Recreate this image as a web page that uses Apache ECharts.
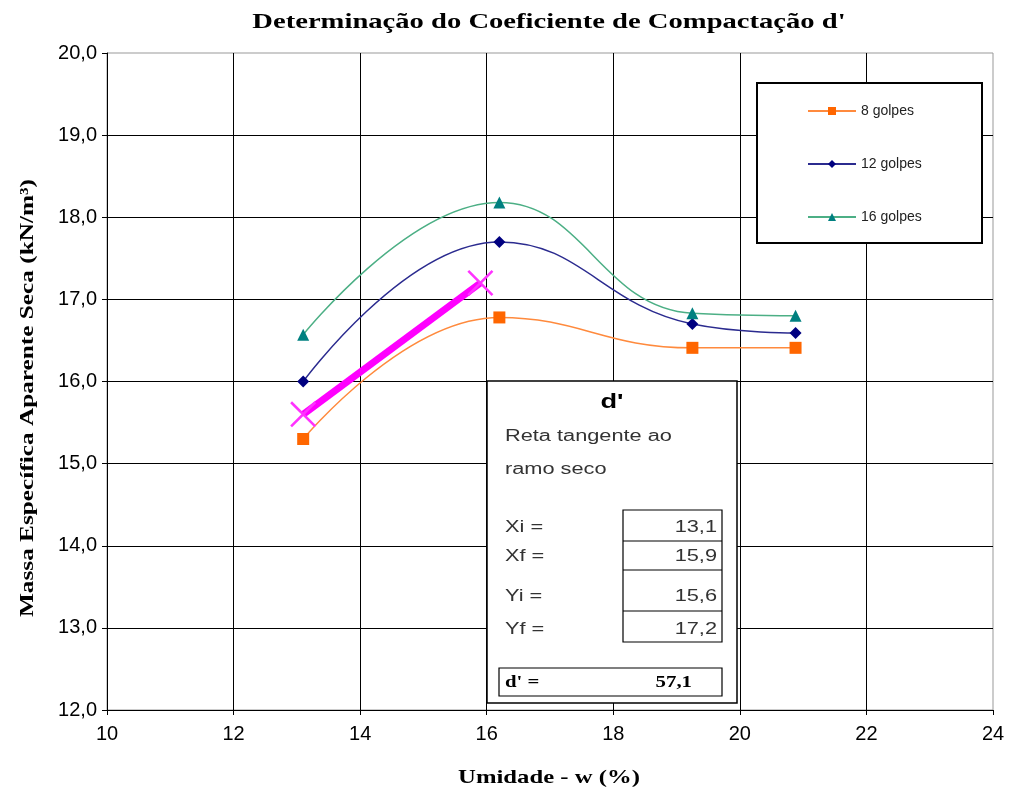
<!DOCTYPE html>
<html>
<head>
<meta charset="utf-8">
<script src="https://cdn.jsdelivr.net/npm/echarts@6/dist/echarts.min.js"></script>
<style>html,body{margin:0;padding:0;background:#fff;}#c{width:1012px;height:796px;}</style>
</head>
<body>
<div id="c"></div>
<script>
// ---- data ----
var chartTitle = 'Determinação do Coeficiente de Compactação d\'';
var xAxisName = 'Umidade - w (%)';
var yAxisName = 'Massa Específica Aparente Seca (kN/m³)';
var seriesNames = ['8 golpes', '12 golpes', '16 golpes'];
var w8 = [13.1, 16.2, 19.25, 20.88];
var g8 = [15.3, 16.78, 16.41, 16.41];
var w12 = [13.1, 16.2, 19.25, 20.88];
var g12 = [16.0, 17.7, 16.7, 16.59];
var w16 = [13.1, 16.2, 19.25, 20.88];
var g16 = [16.57, 18.18, 16.83, 16.8];
var tangentX = [13.1, 15.9];
var tangentY = [15.6, 17.2];
var dPrime = 57.1;
var xTicks = [10, 12, 14, 16, 18, 20, 22, 24];
var yTicks = [12, 13, 14, 15, 16, 17, 18, 19, 20];

function pairs(xs, ys) { return xs.map(function (x, i) { return [x, ys[i]]; }); }
function fmt(v) { return v.toFixed(1).replace('.', ','); }

var chart = echarts.init(document.getElementById('c'));
var sans = 'Liberation Sans';
var serif = 'Liberation Serif';
var SX = 1.36; // horizontal text stretch seen in the reference

var tbl = [
  ['Xi =', tangentX[0], 528],
  ['Xf =', tangentX[1], 557],
  ['Yi =', tangentY[0], 597],
  ['Yf =', tangentY[1], 630]
];
function txt(x, y, text, font, opts) {
  opts = opts || {};
  return { type: 'text', z: opts.z || 4, x: x, y: y, scaleX: opts.sx || SX, rotation: opts.rot || 0,
    style: { text: text, font: font, fill: opts.fill || '#000', align: opts.align || 'left', verticalAlign: 'middle' } };
}
var graphics = [
  txt(549, 22, chartTitle, 'bold 22px ' + serif, { align: 'center', sx: 1.3 }),
  txt(549, 778, xAxisName, 'bold 19px ' + serif, { align: 'center', sx: 1.3 }),
  txt(28, 398, yAxisName, 'bold 19px ' + serif, { align: 'center', sx: 1.33, rot: Math.PI / 2 }),
  // legend frame
  { type: 'rect', z: 3, shape: { x: 757, y: 83, width: 225, height: 160 },
    style: { fill: '#fff', stroke: '#000', lineWidth: 2 } },
  // table frame
  { type: 'rect', z: 3, shape: { x: 487, y: 381, width: 250, height: 322 },
    style: { fill: '#fff', stroke: '#000', lineWidth: 1.5 } },
  txt(612, 402, "d'", 'bold 20px ' + sans, { align: 'center' }),
  txt(505, 437, 'Reta tangente ao', '16px ' + sans, { fill: '#333' }),
  txt(505, 470, 'ramo seco', '16px ' + sans, { fill: '#333' }),
  { type: 'rect', z: 4, shape: { x: 623, y: 510, width: 99, height: 132 }, style: { fill: 'none', stroke: '#000', lineWidth: 1.2 } },
  { type: 'line', z: 4, shape: { x1: 623, y1: 541, x2: 722, y2: 541 }, style: { stroke: '#000', lineWidth: 1.2 } },
  { type: 'line', z: 4, shape: { x1: 623, y1: 570, x2: 722, y2: 570 }, style: { stroke: '#000', lineWidth: 1.2 } },
  { type: 'line', z: 4, shape: { x1: 623, y1: 611, x2: 722, y2: 611 }, style: { stroke: '#000', lineWidth: 1.2 } },
  { type: 'rect', z: 4, shape: { x: 499, y: 668, width: 223, height: 28 }, style: { fill: 'none', stroke: '#000', lineWidth: 1.2 } },
  txt(505, 683, "d' =", 'bold 16px ' + serif, { sx: 1.3 }),
  txt(692, 683, fmt(dPrime), 'bold 16px ' + serif, { align: 'right', sx: 1.3 })
];
tbl.forEach(function (r) {
  graphics.push(txt(505, r[2], r[0], '16px ' + sans, { fill: '#333' }));
  graphics.push(txt(717, r[2], fmt(r[1]), '16px ' + sans, { fill: '#333', align: 'right' }));
});

var xSymbol = 'path://M0,0.7L0.7,0L10,9.3L9.3,10ZM9.3,0L10,0.7L0.7,10L0,9.3Z';

chart.setOption({
  animation: false,
  backgroundColor: '#fff',
  grid: { left: 107, right: 19, top: 53, bottom: 86, show: true, borderColor: '#999', borderWidth: 1, backgroundColor: 'transparent' },
  legend: {
    orient: 'vertical', left: 807, top: 104, padding: 0, itemWidth: 48, itemHeight: 10, itemGap: 39,
    data: seriesNames,
    textStyle: { fontFamily: sans, fontSize: 14, color: '#222' }
  },
  xAxis: {
    type: 'value', min: xTicks[0], max: xTicks[xTicks.length - 1], interval: 2,
    axisLine: { lineStyle: { color: '#000', width: 1 } },
    axisTick: { show: true, length: 5, lineStyle: { color: '#000' } },
    axisLabel: { fontFamily: sans, fontSize: 20, color: '#000', margin: 14 },
    splitLine: { show: true, showMaxLine: false, lineStyle: { color: '#000', width: 1 } }
  },
  yAxis: {
    type: 'value', min: yTicks[0], max: yTicks[yTicks.length - 1], interval: 1,
    axisLine: { lineStyle: { color: '#000', width: 1 } },
    axisTick: { show: true, length: 5, lineStyle: { color: '#000' } },
    axisLabel: { fontFamily: sans, fontSize: 20, color: '#000', margin: 10, formatter: function (v) { return fmt(v); } },
    splitLine: { show: true, showMaxLine: false, lineStyle: { color: '#000', width: 1 } }
  },
  series: [
    { name: seriesNames[0], type: 'line', smooth: 0.45, data: pairs(w8, g8),
      symbol: 'rect', symbolSize: 12, itemStyle: { color: '#ff6600' },
      lineStyle: { color: '#ff8a3d', width: 1.5 } },
    { name: seriesNames[1], type: 'line', smooth: 0.45, data: pairs(w12, g12),
      symbol: 'diamond', symbolSize: 12, itemStyle: { color: '#000080' },
      lineStyle: { color: '#2b2b8f', width: 1.5 } },
    { name: seriesNames[2], type: 'line', smooth: 0.45, data: pairs(w16, g16),
      symbol: 'triangle', symbolSize: 12, itemStyle: { color: '#008080' },
      lineStyle: { color: '#4caf85', width: 1.5 } },
    { name: 'tangente', type: 'line', data: pairs(tangentX, tangentY),
      symbol: xSymbol, symbolSize: 26, itemStyle: { color: '#ff33ff' },
      lineStyle: { color: '#ff00ff', width: 7 }, z: 3 }
  ],
  graphic: graphics
});
</script>
</body>
</html>
